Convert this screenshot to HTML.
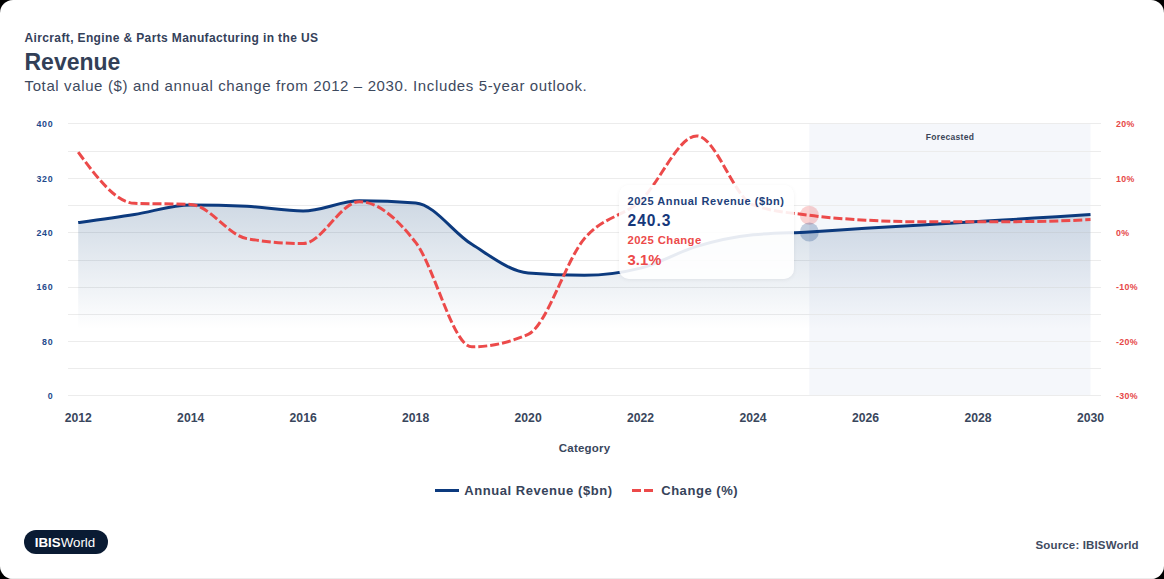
<!DOCTYPE html>
<html><head><meta charset="utf-8"><style>
html,body{margin:0;padding:0;background:#000;}
body{width:1164px;height:579px;overflow:hidden;position:relative;font-family:"Liberation Sans",sans-serif;}
.card{position:absolute;left:0;top:0;width:1164px;height:579px;background:#fff;border-radius:13px;overflow:hidden;}
.bot{position:absolute;left:0;top:578px;width:1164px;height:1px;background:#ececec;}
.t1{position:absolute;left:24.5px;top:31px;font-size:12px;font-weight:700;color:#34415a;letter-spacing:0.37px;white-space:nowrap;line-height:14px;}
.t2{position:absolute;left:24.5px;top:49px;font-size:23px;font-weight:700;color:#323f57;white-space:nowrap;line-height:26px;}
.t3{position:absolute;left:24.5px;top:77px;font-size:15px;font-weight:400;color:#3d495e;letter-spacing:0.625px;white-space:nowrap;line-height:17px;}
svg{position:absolute;left:0;top:0;}
.yl{font-size:8.8px;font-weight:700;fill:#1f4a8c;letter-spacing:0.7px;}
.yr{font-size:8.8px;font-weight:700;fill:#e64848;letter-spacing:0.35px;}
.xl{font-size:12.2px;font-weight:700;fill:#39465c;}
.tip{position:absolute;left:619px;top:184.5px;width:175px;height:94px;background:rgba(255,255,255,0.9);border-radius:10px;box-shadow:0 1px 4px rgba(0,0,0,0.06);}
.tip div{position:absolute;left:8.5px;white-space:nowrap;font-weight:700;}
.logo{position:absolute;left:24px;top:530px;width:83.5px;height:24px;border-radius:12px;background:#0a1b33;}
.logo span{position:absolute;left:10.7px;top:5.5px;font-size:13.35px;color:#fff;line-height:14px;white-space:nowrap;letter-spacing:0px;}
.src{position:absolute;left:1035.5px;top:538.5px;font-size:11.5px;font-weight:700;color:#3f4b5f;white-space:nowrap;line-height:13px;letter-spacing:0.15px;}
.leg{position:absolute;top:483.5px;font-size:13px;font-weight:700;color:#36435a;white-space:nowrap;line-height:14px;letter-spacing:0.55px;}
</style></head><body>
<div class="card">
<div class="t1">Aircraft, Engine &amp; Parts Manufacturing in the US</div>
<div class="t2">Revenue</div>
<div class="t3">Total value ($) and annual change from 2012 – 2030. Includes 5-year outlook.</div>
<svg width="1164" height="579" viewBox="0 0 1164 579">
<defs>
<linearGradient id="ag" x1="0" y1="200.86" x2="0" y2="395.20" gradientUnits="userSpaceOnUse">
<stop offset="0" stop-color="#0f4178" stop-opacity="0.205"/>
<stop offset="0.66" stop-color="#0f4178" stop-opacity="0"/>
</linearGradient>
</defs>
<rect x="809.31" y="123.40" width="281.19" height="271.80" fill="#f5f7fb"/>
<rect x="68" y="123" width="1033" height="1" fill="#ececec"/><rect x="68" y="151" width="1033" height="1" fill="#ececec"/><rect x="68" y="178" width="1033" height="1" fill="#ececec"/><rect x="68" y="205" width="1033" height="1" fill="#ececec"/><rect x="68" y="232" width="1033" height="1" fill="#ececec"/><rect x="68" y="260" width="1033" height="1" fill="#ececec"/><rect x="68" y="287" width="1033" height="1" fill="#ececec"/><rect x="68" y="314" width="1033" height="1" fill="#ececec"/><rect x="68" y="341" width="1033" height="1" fill="#ececec"/><rect x="68" y="368" width="1033" height="1" fill="#ececec"/><rect x="68" y="395" width="1033" height="1" fill="#ececec"/>
<text x="950" y="140" text-anchor="middle" style="font-size:8.5px;font-weight:700;fill:#3a4557;letter-spacing:0.3px">Forecasted</text>
<path d="M78.20,222.61C96.95,220.00,115.69,217.40,134.44,214.45C153.19,211.51,171.93,204.94,190.68,204.94C209.42,204.94,228.17,205.39,246.92,206.30C265.66,207.20,284.41,211.06,303.16,211.06C321.90,211.06,340.65,200.86,359.39,200.86C378.14,200.86,396.89,201.54,415.63,202.90C434.38,204.26,453.13,232.69,471.87,244.35C490.62,256.02,509.36,271.30,528.11,272.89C546.86,274.48,565.60,275.27,584.35,275.27C603.10,275.27,621.84,272.89,640.59,268.13C659.34,263.38,678.08,251.94,696.83,246.39C715.57,240.84,734.32,236.79,753.07,234.84C771.81,232.89,790.56,233.00,809.31,231.92C828.05,230.83,846.80,229.47,865.54,228.31C884.29,227.16,903.04,226.11,921.78,224.99C940.53,223.86,959.28,222.73,978.02,221.59C996.77,220.44,1015.51,219.31,1034.26,218.12C1053.01,216.93,1071.75,215.69,1090.50,214.45L1090.50,395.20L78.20,395.20Z" fill="url(#ag)"/>
<path d="M78.20,222.61C96.95,220.00,115.69,217.40,134.44,214.45C153.19,211.51,171.93,204.94,190.68,204.94C209.42,204.94,228.17,205.39,246.92,206.30C265.66,207.20,284.41,211.06,303.16,211.06C321.90,211.06,340.65,200.86,359.39,200.86C378.14,200.86,396.89,201.54,415.63,202.90C434.38,204.26,453.13,232.69,471.87,244.35C490.62,256.02,509.36,271.30,528.11,272.89C546.86,274.48,565.60,275.27,584.35,275.27C603.10,275.27,621.84,272.89,640.59,268.13C659.34,263.38,678.08,251.94,696.83,246.39C715.57,240.84,734.32,236.79,753.07,234.84C771.81,232.89,790.56,233.00,809.31,231.92C828.05,230.83,846.80,229.47,865.54,228.31C884.29,227.16,903.04,226.11,921.78,224.99C940.53,223.86,959.28,222.73,978.02,221.59C996.77,220.44,1015.51,219.31,1034.26,218.12C1053.01,216.93,1071.75,215.69,1090.50,214.45" fill="none" stroke="#0c3a7e" stroke-width="3"/>
<path d="M78.20,152.21C96.95,177.40,115.69,202.58,134.44,203.31C153.19,204.03,171.93,203.67,190.68,204.40C209.42,205.12,228.17,235.38,246.92,238.64C265.66,241.90,284.41,243.54,303.16,243.54C321.90,243.54,340.65,201.68,359.39,201.68C378.14,201.68,396.89,218.26,415.63,242.45C434.38,266.64,453.13,346.82,471.87,346.82C490.62,346.82,509.36,342.65,528.11,334.32C546.86,325.98,565.60,260.93,584.35,238.64C603.10,216.36,621.84,217.71,640.59,200.59C659.34,183.47,678.08,135.90,696.83,135.90C715.57,135.90,734.32,198.05,753.07,204.94C771.81,211.83,790.56,212.73,809.31,215.27C828.05,217.81,846.80,219.07,865.54,220.16C884.29,221.25,903.04,221.79,921.78,221.79C940.53,221.79,959.28,221.79,978.02,221.79C996.77,221.79,1015.51,221.70,1034.26,221.52C1053.01,221.34,1071.75,220.48,1090.50,219.62" fill="none" stroke="#ec4a4a" stroke-width="3" stroke-dasharray="9 3"/>
<text x="53.3" y="127.30" text-anchor="end" class="yl">400</text><text x="53.3" y="181.66" text-anchor="end" class="yl">320</text><text x="53.3" y="236.02" text-anchor="end" class="yl">240</text><text x="53.3" y="290.38" text-anchor="end" class="yl">160</text><text x="53.3" y="344.74" text-anchor="end" class="yl">80</text><text x="53.3" y="399.10" text-anchor="end" class="yl">0</text>
<text x="1116" y="127.40" class="yr">20%</text><text x="1116" y="181.76" class="yr">10%</text><text x="1116" y="236.12" class="yr">0%</text><text x="1116" y="290.48" class="yr">-10%</text><text x="1116" y="344.84" class="yr">-20%</text><text x="1116" y="399.20" class="yr">-30%</text>
<text x="78.20" y="422.3" text-anchor="middle" class="xl">2012</text><text x="190.68" y="422.3" text-anchor="middle" class="xl">2014</text><text x="303.16" y="422.3" text-anchor="middle" class="xl">2016</text><text x="415.63" y="422.3" text-anchor="middle" class="xl">2018</text><text x="528.11" y="422.3" text-anchor="middle" class="xl">2020</text><text x="640.59" y="422.3" text-anchor="middle" class="xl">2022</text><text x="753.07" y="422.3" text-anchor="middle" class="xl">2024</text><text x="865.54" y="422.3" text-anchor="middle" class="xl">2026</text><text x="978.02" y="422.3" text-anchor="middle" class="xl">2028</text><text x="1090.50" y="422.3" text-anchor="middle" class="xl">2030</text>
<text x="584.6" y="451.8" text-anchor="middle" style="font-size:11.5px;font-weight:700;fill:#39465c;letter-spacing:0.2px">Category</text>
<circle cx="809.31" cy="215.27" r="9.5" fill="#ec4a4a" fill-opacity="0.25"/>
<circle cx="809.31" cy="231.92" r="9.5" fill="#0c3a7e" fill-opacity="0.25"/>
<line x1="435" x2="459" y1="490.5" y2="490.5" stroke="#0c3a7e" stroke-width="3"/>
<line x1="632" x2="653" y1="490.5" y2="490.5" stroke="#ec4a4a" stroke-width="3" stroke-dasharray="9 3"/>
</svg>
<div class="leg" style="left:464.3px">Annual Revenue ($bn)</div>
<div class="leg" style="left:661.2px">Change (%)</div>
<div class="tip">
<div style="top:10.5px;font-size:11px;color:#1d3f7a;letter-spacing:0.55px;line-height:13px">2025 Annual Revenue ($bn)</div>
<div style="top:27px;font-size:15.6px;color:#16387a;letter-spacing:1.0px;line-height:17px">240.3</div>
<div style="top:49px;font-size:11.3px;color:#ec4a4a;letter-spacing:0.4px;line-height:13px">2025 Change</div>
<div style="top:67px;font-size:14.8px;color:#ec4a4a;letter-spacing:0.1px;line-height:17px">3.1%</div>
</div>
<div class="logo"><span><b>IBIS</b>World</span></div>
<div class="src">Source: IBISWorld</div>
<div class="bot"></div>
</div>
</body></html>
